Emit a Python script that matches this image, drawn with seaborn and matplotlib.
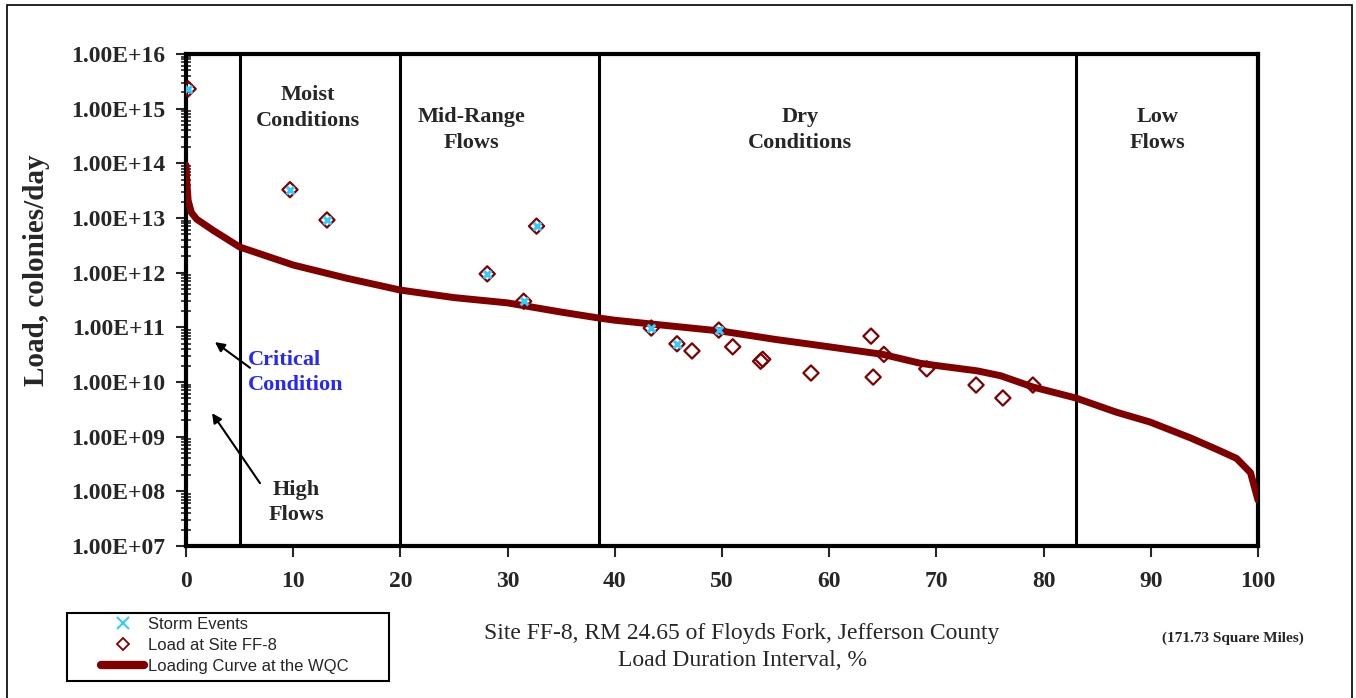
import numpy as np
import pandas as pd
import matplotlib
matplotlib.use("Agg")
import matplotlib.pyplot as plt
import seaborn as sns
from matplotlib.ticker import FixedLocator, FuncFormatter, LogLocator, NullFormatter
from matplotlib.lines import Line2D
from matplotlib.patches import Rectangle

# ---------------- data ----------------
curve_pct = [0, 0.1, 0.2, 0.5, 1, 2.5, 5, 10, 15, 20, 25, 30, 35, 38.5, 40, 45, 50, 55,
             60, 65, 68.5, 70, 73.8, 76, 79, 83, 86.8, 89.9, 93.7, 96.2, 98, 99.3, 100]
curve_load = [9.3e13, 4.0e13, 2.1e13, 1.26e13, 9.5e12, 6.0e12, 2.95e12, 1.38e12, 7.9e11,
              4.8e11, 3.5e11, 2.8e11, 1.9e11, 1.48e11, 1.35e11, 1.07e11, 8.5e10, 6.0e10,
              4.4e10, 3.2e10, 2.2e10, 2.0e10, 1.6e10, 1.3e10, 8.1e9, 5.1e9, 2.8e9, 1.86e9,
              9.5e8, 5.8e8, 4.0e8, 2.2e8, 6.9e7]

site_pct = [0.2, 9.7, 13.15, 28.1, 31.5, 32.7, 43.4, 45.8, 47.2, 49.7, 51.0, 53.6, 53.8,
            58.3, 63.9, 65.1, 64.1, 69.1, 73.7, 76.2, 79.0]
site_load = [2.3e15, 3.3e13, 9.2e12, 9.5e11, 3.0e11, 7.1e12, 9.7e10, 5.0e10, 3.7e10,
             8.9e10, 4.4e10, 2.4e10, 2.6e10, 1.46e10, 6.9e10, 3.2e10, 1.23e10, 1.74e10,
             8.8e9, 5.1e9, 8.8e9]

storm_pct = [0.2, 9.7, 13.15, 28.1, 31.5, 32.7, 43.4, 45.8, 49.7]
storm_load = [2.3e15, 3.3e13, 9.2e12, 9.5e11, 3.0e11, 7.1e12, 9.7e10, 5.0e10, 8.9e10]

zone_bounds = [5, 20, 38.5, 83]
zone_labels = ["Moist\nConditions", "Mid-Range\nFlows", "Dry\nConditions", "Low\nFlows"]
ytick_exps = list(range(7, 17))
xticks = list(range(0, 101, 10))

curve_df = pd.DataFrame({"pct": curve_pct, "load": curve_load})
site_df = pd.DataFrame({"pct": site_pct, "load": site_load})
storm_df = pd.DataFrame({"pct": storm_pct, "load": storm_load})

# ---------------- style ----------------
sns.set_style("white")
plt.rcParams["font.family"] = ["Liberation Serif", "DejaVu Serif"]

MAROON = "#800000"
CYAN = "#33CCFF"

fig = plt.figure(figsize=(13.56, 6.98), dpi=100)
ax = fig.add_axes([186/1356, 1-546/698, (1258-186)/1356, (546-54)/698])

sns.lineplot(data=curve_df, x="pct", y="load", ax=ax, color=MAROON, lw=5,
             solid_capstyle="round", zorder=3, legend=False)
sns.scatterplot(data=site_df, x="pct", y="load", ax=ax, marker="D", s=60,
                facecolor="none", edgecolor=MAROON, linewidth=1.6, zorder=4, legend=False)
sns.scatterplot(data=storm_df, x="pct", y="load", ax=ax, marker="x", s=30,
                color=CYAN, linewidth=2.2, zorder=5, legend=False)

ax.set_yscale("log")
ax.set_xlim(0, 100)
ax.set_ylim(1e7, 1e16)

for b in zone_bounds:
    ax.axvline(b, color="black", lw=2.2, zorder=2)

for s in ax.spines.values():
    s.set_linewidth(3)
    s.set_color("black")

ax.yaxis.set_major_locator(FixedLocator([10.0**e for e in ytick_exps]))
ax.yaxis.set_major_formatter(FuncFormatter(lambda v, p: "1.00E+%02d" % int(round(np.log10(v)))))
ax.yaxis.set_minor_locator(LogLocator(base=10, subs=np.arange(2, 10), numticks=50))
ax.yaxis.set_minor_formatter(NullFormatter())
ax.set_xticks(xticks)
ax.set_xticklabels([str(t) for t in xticks])

ax.tick_params(axis="y", which="major", direction="out", length=7, width=1.5, left=True,
               labelsize=17, pad=8)
ax.tick_params(axis="y", which="minor", direction="inout", length=7, width=1.2, left=True)
ax.tick_params(axis="x", which="major", direction="out", length=8, width=1.5, bottom=True,
               labelsize=17, pad=10)
for lab in ax.get_xticklabels() + ax.get_yticklabels():
    lab.set_fontweight("bold")

ax.set_xlabel("")
ax.set_ylabel("Load, colonies/day", fontsize=21, fontweight="bold")
ax.yaxis.set_label_coords(-0.127, 0.56)

# zone labels
zone_pos = [(11.4, 10**15.01), (26.6, 10**14.61), (57.3, 10**14.61), (90.6, 10**14.61)]
for (xp, yp), txt in zip(zone_pos, zone_labels):
    ax.text(xp, yp, txt, ha="center", va="center", fontsize=16, fontweight="bold",
            linespacing=1.35)

ax.text(10.26, 10**7.79, "High\nFlows", ha="center", va="center", fontsize=16,
        fontweight="bold", linespacing=1.35)
ax.text(5.8, 10**10.18, "Critical\nCondition", ha="left", va="center", fontsize=16,
        fontweight="bold", color="#2626FF", linespacing=1.35)

ax.annotate("", xy=(2.7, 10**10.73), xytext=(5.97, 10**10.26),
            arrowprops=dict(arrowstyle="-|>", color="black", lw=1.5, mutation_scale=14,
                            shrinkA=0, shrinkB=0))
ax.annotate("", xy=(2.43, 10**9.43), xytext=(6.9, 10**8.15),
            arrowprops=dict(arrowstyle="-|>", color="black", lw=1.5, mutation_scale=14,
                            shrinkA=0, shrinkB=0))

# bottom texts
fig.text(742/1356, 1-634/698, "Site FF-8, RM 24.65 of Floyds Fork, Jefferson County",
         ha="center", va="center", fontsize=17)
fig.text(742/1356, 1-660/698, "Load Duration Interval, %", ha="center", va="center",
         fontsize=17)
fig.text(1233/1356, 1-638/698, "(171.73 Square Miles)", ha="center", va="center",
         fontsize=11, fontweight="bold")

# legend (frameless) + drawn frame
handles = [
    Line2D([], [], marker="x", color=CYAN, ls="none", markersize=8, markeredgewidth=1.5),
    Line2D([], [], marker="D", color=MAROON, ls="none", markersize=6,
           markerfacecolor="none", markeredgewidth=1.3),
    Line2D([], [], color=MAROON, lw=6, solid_capstyle="round"),
]
labels = ["Storm Events", "Load at Site FF-8", "Loading Curve at the WQC"]
leg = fig.legend(handles, labels, loc="upper left",
                 bbox_to_anchor=(101/1356, 1-617/698), frameon=False,
                 handlelength=2.6, handletextpad=0.2,
                 labelspacing=0.36, borderpad=0, borderaxespad=0,
                 prop={"family": ["Liberation Sans", "DejaVu Sans"], "size": 12})
fig.add_artist(Rectangle((67/1356, 1-681/698), (389-67)/1356, (681-613)/698, fill=False,
                         transform=fig.transFigure, lw=1.5, edgecolor="black"))

fig.add_artist(Rectangle((7/1356, -0.02), (1352-7)/1356, 1-5/698+0.02, fill=False,
                         transform=fig.transFigure, lw=1.2, edgecolor="black"))

fig.savefig("out.png", dpi=100, facecolor="white")
